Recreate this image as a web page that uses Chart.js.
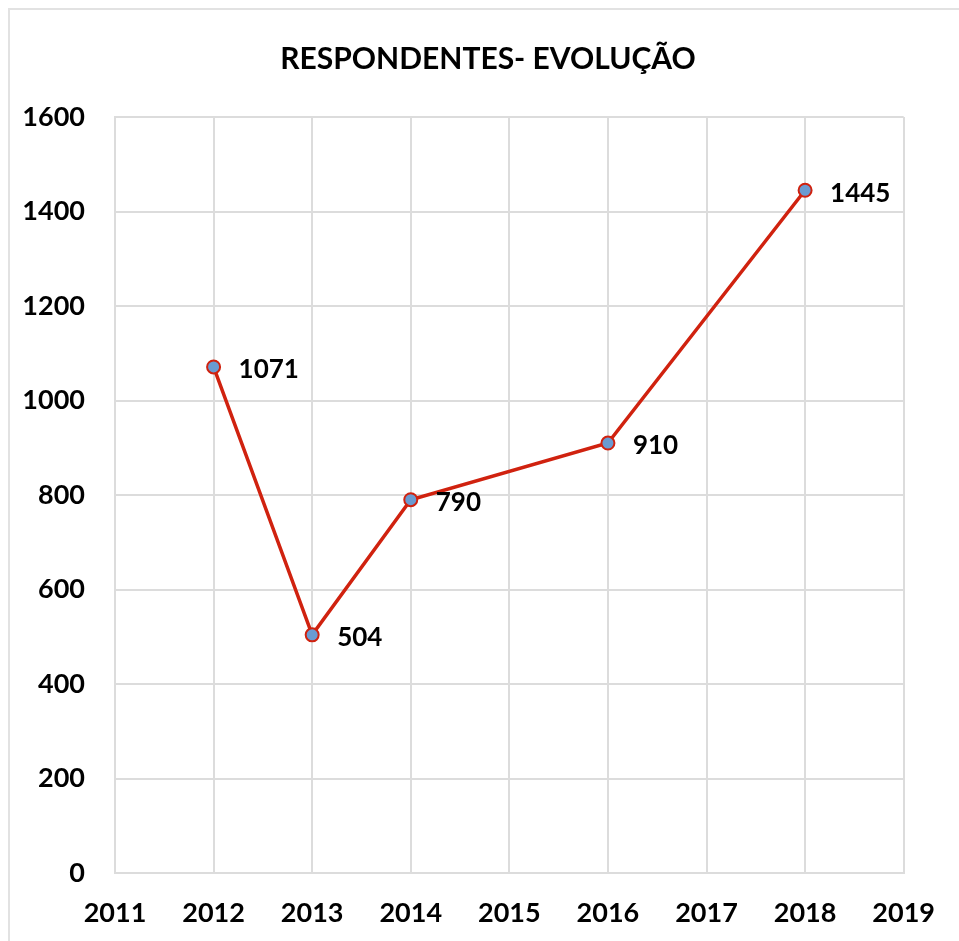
<!DOCTYPE html>
<html lang="pt">
<head>
    <meta charset="UTF-8">
    <title>Respondentes - Evolução</title>
    <script src="https://cdn.jsdelivr.net/npm/chart.js"></script>
    <style>
        html, body { margin: 0; padding: 0; background: #fff; overflow: hidden; }
        .frame {
            position: absolute; left: 8px; top: 8px;
            width: 980px; height: 960px;
            border: 2px solid #e2e2e2;
        }
        .wrap { position: absolute; left: 0; top: 0; width: 959px; height: 941px; }
    </style>
</head>
<body>
    <div class="frame"></div>
    <div class="wrap"><canvas id="chart"></canvas></div>
    <script>
        // dados
        const anos = [2012, 2013, 2014, 2016, 2018];
        const respondentes = [1071, 504, 790, 910, 1445];
        const titulo = 'RESPONDENTES- EVOLUÇÃO';

        const pontos = anos.map((a, i) => ({ x: a, y: respondentes[i] }));
        const fonte = 'Lato, "Open Sans", sans-serif';

        // título centrado no quadro, não na área do gráfico
        const tituloPlugin = {
            id: 'titulo',
            afterDraw(chart) {
                const ctx = chart.ctx;
                ctx.save();
                ctx.font = 'bold 30px ' + fonte;
                ctx.fillStyle = '#000';
                ctx.textAlign = 'center';
                ctx.textBaseline = 'middle';
                ctx.fillText(titulo, 488, 59);
                ctx.restore();
            }
        };

        // rótulos ao lado dos pontos
        const rotulos = {
            id: 'rotulos',
            afterDatasetsDraw(chart) {
                const ctx = chart.ctx;
                const meta = chart.getDatasetMeta(0);
                ctx.save();
                ctx.font = 'bold 26px ' + fonte;
                ctx.fillStyle = '#000';
                ctx.textAlign = 'left';
                ctx.textBaseline = 'middle';
                meta.data.forEach((p, i) => {
                    ctx.fillText(String(respondentes[i]), p.x + 25, p.y + 3);
                });
                ctx.restore();
            }
        };

        new Chart(document.getElementById('chart'), {
            type: 'scatter',
            data: {
                datasets: [{
                    data: pontos,
                    showLine: true,
                    borderColor: '#d0220f',
                    borderWidth: 3.5,
                    pointBackgroundColor: '#6a9bd1',
                    pointBorderColor: '#d0220f',
                    pointBorderWidth: 2,
                    pointRadius: 6.5
                }]
            },
            options: {
                responsive: true,
                maintainAspectRatio: false,
                animation: false,
                layout: { padding: { left: 20, right: 53, top: 117, bottom: 8 } },
                plugins: {
                    legend: { display: false },
                    tooltip: { enabled: false },
                    title: { display: false }
                },
                scales: {
                    x: {
                        type: 'linear',
                        min: 2011, max: 2019,
                        afterFit(axis) { axis.height = 60; },
                        grid: { color: '#dcdcdc', lineWidth: 2, drawTicks: false },
                        border: { color: '#dcdcdc', width: 2 },
                        ticks: {
                            stepSize: 1,
                            padding: 24,
                            color: '#000',
                            font: { family: fonte, size: 27, weight: 'bold' },
                            callback: v => String(v)
                        }
                    },
                    y: {
                        min: 0, max: 1600,
                        afterFit(axis) { axis.width = 95; },
                        grid: { color: '#dcdcdc', lineWidth: 2, drawTicks: false },
                        border: { color: '#dcdcdc', width: 2 },
                        ticks: {
                            stepSize: 200,
                            padding: 30,
                            color: '#000',
                            font: { family: fonte, size: 27, weight: 'bold' },
                            callback: v => String(v)
                        }
                    }
                }
            },
            plugins: [rotulos, tituloPlugin]
        });
    </script>
</body>
</html>
